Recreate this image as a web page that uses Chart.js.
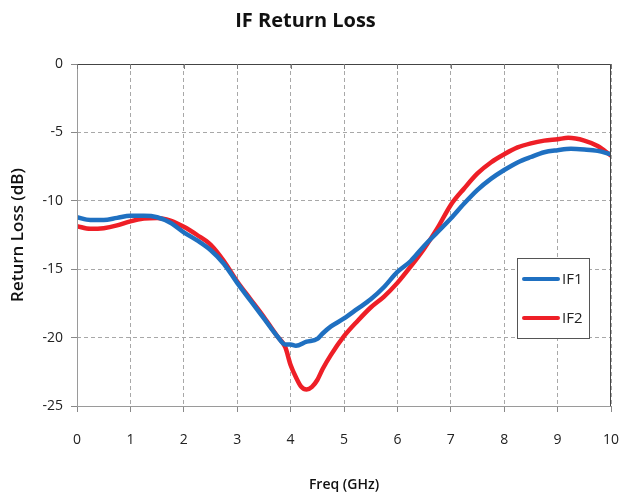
<!DOCTYPE html>
<html>
<head>
<meta charset="utf-8">
<script src="https://cdn.jsdelivr.net/npm/chart.js@4/dist/chart.umd.min.js"></script>
<style>
    html, body { margin: 0; padding: 0; background: #fff; }
    #chart { display: block; }
</style>
</head>
<body>
<canvas id="chart" width="623" height="497"></canvas>
<script>
// frequencies in GHz, return loss in dB
const freqIF1 = [0, 0.25, 0.5, 0.75, 1, 1.25, 1.5, 1.75, 2, 2.25, 2.5, 2.75, 3, 3.25, 3.5, 3.75, 3.9, 4, 4.1, 4.3, 4.5, 4.6, 4.75, 5, 5.25, 5.5, 5.75, 6, 6.25, 6.5, 6.75, 7, 7.25, 7.5, 7.75, 8, 8.25, 8.5, 8.75, 9, 9.25, 9.5, 9.75, 10];
const lossIF1 = [-11.2, -11.4, -11.4, -11.25, -11.1, -11.1, -11.2, -11.6, -12.3, -12.9, -13.6, -14.6, -16.0, -17.3, -18.6, -19.9, -20.5, -20.5, -20.6, -20.3, -20.1, -19.7, -19.2, -18.6, -17.9, -17.2, -16.3, -15.2, -14.4, -13.3, -12.3, -11.3, -10.2, -9.2, -8.4, -7.75, -7.2, -6.8, -6.45, -6.3, -6.2, -6.25, -6.35, -6.6];

const freqIF2 = [0, 0.25, 0.5, 0.75, 1, 1.25, 1.5, 1.75, 2, 2.25, 2.5, 2.75, 3, 3.25, 3.5, 3.75, 3.9, 4, 4.1, 4.2, 4.3, 4.4, 4.5, 4.6, 4.75, 5, 5.25, 5.5, 5.75, 6, 6.25, 6.5, 6.75, 7, 7.25, 7.5, 7.75, 8, 8.25, 8.5, 8.75, 9, 9.2, 9.5, 9.75, 10];
const lossIF2 = [-11.85, -12.05, -12.0, -11.8, -11.5, -11.3, -11.25, -11.45, -11.9, -12.5, -13.2, -14.4, -15.9, -17.2, -18.5, -19.9, -20.7, -22.0, -22.9, -23.6, -23.8, -23.6, -23.1, -22.3, -21.3, -19.9, -18.8, -17.8, -17.0, -16.0, -14.8, -13.5, -12.0, -10.3, -9.1, -8.0, -7.2, -6.6, -6.1, -5.8, -5.6, -5.5, -5.4, -5.6, -6.0, -6.7];

const seriesNames = ['IF1', 'IF2'];
const seriesColors = ['#1f70c1', '#ee1f27'];

const xTicks = [0, 1, 2, 3, 4, 5, 6, 7, 8, 9, 10];
const yTicks = [0, -5, -10, -15, -20, -25];

const fontFamily = "'Open Sans', 'DejaVu Sans', sans-serif";

const toPoints = (xs, ys) => xs.map((x, i) => ({ x: x, y: ys[i] }));

// plot frame + boxed legend inside the plot, like the original
const framePlugin = {
    id: 'frame',
    afterDraw(chart) {
        const ctx = chart.ctx;
        const a = chart.chartArea;
        ctx.save();
        ctx.lineWidth = 1;
        ctx.strokeStyle = '#9a9a9a';
        ctx.beginPath();
        ctx.moveTo(a.left + 0.5, a.top);
        ctx.lineTo(a.left + 0.5, a.bottom + 0.5);
        ctx.lineTo(a.right, a.bottom + 0.5);
        ctx.stroke();
        ctx.strokeStyle = '#444';
        ctx.beginPath();
        ctx.moveTo(a.left, a.top + 0.5);
        ctx.lineTo(a.right - 0.5, a.top + 0.5);
        ctx.lineTo(a.right - 0.5, a.bottom);
        ctx.stroke();
        // small ticks hanging from the top line
        const xs = chart.scales.x;
        ctx.strokeStyle = '#777';
        xTicks.forEach((t) => {
            const px = Math.round(xs.getPixelForValue(t)) + 0.5;
            ctx.beginPath();
            ctx.moveTo(px, a.top);
            ctx.lineTo(px, a.top + 5);
            ctx.stroke();
        });

        // legend
        const bx = 517, by = 258, bw = 72, bh = 80;
        ctx.fillStyle = '#fff';
        ctx.fillRect(bx, by, bw, bh);
        ctx.strokeStyle = '#555';
        ctx.strokeRect(bx + 0.5, by + 0.5, bw, bh);
        ctx.font = '15px ' + fontFamily;
        ctx.textBaseline = 'middle';
        chart.data.datasets.forEach((ds, i) => {
            const ly = by + 21 + i * 39;
            ctx.strokeStyle = ds.borderColor;
            ctx.lineWidth = 4;
            ctx.lineCap = 'round';
            ctx.beginPath();
            ctx.moveTo(bx + 7, ly);
            ctx.lineTo(bx + 41, ly);
            ctx.stroke();
            ctx.fillStyle = '#222';
            ctx.fillText(ds.label, bx + 45, ly + 1);
        });
        ctx.restore();
    }
};

new Chart(document.getElementById('chart'), {
    type: 'line',
    data: {
        datasets: [
            {
                label: seriesNames[0],
                data: toPoints(freqIF1, lossIF1),
                borderColor: seriesColors[0],
                borderWidth: 4.5,
                pointRadius: 0,
                cubicInterpolationMode: 'monotone',
            },
            {
                label: seriesNames[1],
                data: toPoints(freqIF2, lossIF2),
                borderColor: seriesColors[1],
                borderWidth: 4.5,
                pointRadius: 0,
                cubicInterpolationMode: 'monotone',
            },
        ],
    },
    options: {
        responsive: false,
        animation: false,
        layout: { padding: { left: 0, right: 12, top: 0, bottom: 0 } },
        plugins: {
            legend: { display: false },
            tooltip: { enabled: false },
            title: {
                display: true,
                text: 'IF Return Loss',
                color: '#111',
                font: { family: fontFamily, size: 20, weight: 'bold' },
                padding: { top: 9, bottom: 31 },
            },
        },
        scales: {
            x: {
                type: 'linear',
                min: 0,
                max: 10,
                afterBuildTicks: (scale) => { scale.ticks = xTicks.map((v) => ({ value: v })); },
                afterFit: (scale) => {
                    scale.height = 91;
                    scale.paddingLeft = 0;
                    scale.paddingRight = 0;
                },
                grid: {
                    color: '#a8a8a8',
                    tickColor: '#888',
                    tickLength: 6,
                    tickBorderDash: [],
                },
                border: { display: false, dash: [4, 3] },
                ticks: {
                    color: '#222',
                    padding: 20,
                    maxRotation: 0,
                    font: { family: fontFamily, size: 14 },
                },
                title: {
                    display: true,
                    text: 'Freq (GHz)',
                    color: '#111',
                    font: { family: fontFamily, size: 14, weight: '600' },
                    padding: { top: 18 },
                },
            },
            y: {
                min: -25,
                max: 0,
                afterBuildTicks: (scale) => { scale.ticks = yTicks.map((v) => ({ value: v })); },
                afterFit: (scale) => { scale.width = 77; },
                grid: {
                    color: '#a8a8a8',
                    tickColor: '#888',
                    tickLength: 6,
                    tickBorderDash: [],
                },
                border: { display: false, dash: [4, 3] },
                ticks: {
                    color: '#222',
                    padding: 8,
                    font: { family: fontFamily, size: 14 },
                },
                title: {
                    display: true,
                    text: 'Return Loss (dB)',
                    color: '#111',
                    font: { family: fontFamily, size: 17, weight: '600' },
                    padding: { top: 8, bottom: 0 },
                },
            },
        },
    },
    plugins: [framePlugin],
});
</script>
</body>
</html>
